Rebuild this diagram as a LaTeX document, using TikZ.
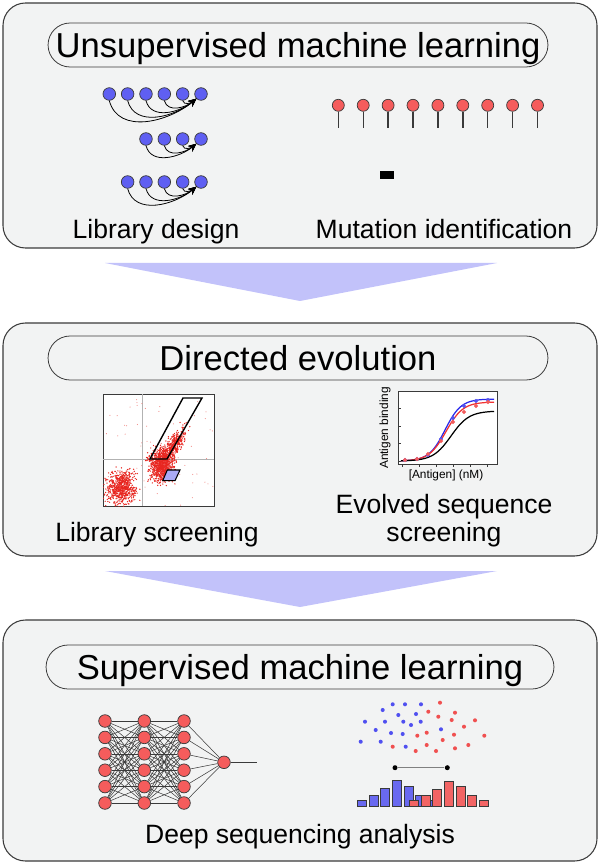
\documentclass[tikz,border=0pt]{standalone}
\usepackage{fontspec}
\setmainfont{Liberation Sans}
\usetikzlibrary{arrows.meta}
\definecolor{panelgray}{RGB}{242,243,243}
\definecolor{linegray}{RGB}{58,58,58}
\definecolor{flowblue}{RGB}{194,194,250}
\definecolor{ballblue}{RGB}{95,95,242}
\definecolor{ballred}{RGB}{245,92,92}
\definecolor{facsred}{RGB}{232,38,32}
\definecolor{gateblue}{RGB}{170,170,245}
\definecolor{curveblue}{RGB}{40,40,235}
\definecolor{curvered}{RGB}{240,50,50}
\definecolor{dotblue}{RGB}{80,80,240}
\definecolor{dotred}{RGB}{240,80,80}
\definecolor{barblue}{RGB}{105,105,240}
\definecolor{barred}{RGB}{242,100,100}
\tikzstyle{panel} = [draw=linegray,fill=panelgray,line width=0.6pt,rounded corners=0.45cm]
\tikzstyle{pill} = [draw=linegray,fill=panelgray,line width=0.45pt,rounded corners=0.44cm,minimum height=0.88cm,inner sep=0pt,font=\fontsize{19.7}{22}\selectfont,text height=14.1pt,text depth=0pt]
\tikzstyle{lbl} = [font=\fontsize{15.1}{18}\selectfont,anchor=base,inner sep=0pt]
\tikzstyle{axlbl} = [font=\fontsize{6.75}{8}\selectfont,inner sep=0pt]
\tikzstyle{ball} = [circle,draw=linegray,line width=0.4pt,minimum size=0.252cm,inner sep=0pt]
\tikzstyle{bball} = [ball,fill=ballblue]
\tikzstyle{rball} = [ball,fill=ballred]
\tikzstyle{link} = [draw,line width=0.45pt,-{Stealth[length=4.5pt,width=4pt]}]
\tikzstyle{wire} = [draw=linegray,line width=0.3pt]

\begin{document}
\begin{tikzpicture}[x=0.02cm,y=-0.02cm,
  sdot/.style={circle,fill=black,inner sep=0pt,minimum size=0.1cm},
  bar/.style={draw=linegray,line width=0.3pt}]
\useasboundingbox (0,0) rectangle (600,864);

\draw[panel] (3,3) rectangle (597,248);
\draw[panel] (3,323) rectangle (597,556);
\draw[panel] (3,620) rectangle (597,861);
\fill[flowblue] (105,263) -- (497,263) -- (300,301) -- cycle;
\fill[flowblue] (105,571) -- (497,571) -- (300,607) -- cycle;

\node[pill,minimum width=10cm] (unsup) at (298,45) {Unsupervised machine learning};
\node[pill,minimum width=10cm] (direv) at (298,358) {Directed evolution};
\node[pill,minimum width=10.16cm] (sup) at (300,667) {Supervised machine learning};

% library design
\foreach \k in {1,...,6}
  \node[bball] (a\k) at ({109.3+18.34*(\k-1)},94) {};
\foreach \k in {3,...,6}
  \node[bball] (b\k) at ({109.3+18.34*(\k-1)},139) {};
\foreach \k in {2,...,6}
  \node[bball] (c\k) at ({109.3+18.34*(\k-1)},182) {};
\foreach \k in {1,...,5}
  \draw[link] (a\k.south) to[out=-75,in=-140,looseness=1.05] (a6.south west);
\foreach \k in {3,...,5}
  \draw[link] (b\k.south) to[out=-75,in=-140,looseness=1.05] (b6.south west);
\foreach \k in {2,...,5}
  \draw[link] (c\k.south) to[out=-75,in=-140,looseness=1.05] (c6.south west);

% mutation identification
\foreach \k in {1,...,9}{
  \node[rball,minimum size=0.24cm] (m\k) at ({338.3+24.9*(\k-1)},105.3) {};
  \coordinate (t\k) at ({338.3+24.9*(\k-1)},128.3);
  \draw[linegray,line width=0.8pt] (m\k) -- (t\k);
}
\node[fill=black,inner sep=0pt,minimum width=0.28cm,minimum height=0.16cm] (mut) at (387,175) {};

\node[lbl] (libdes) at (156,239) {Library design};
\node[lbl] (mutid) at (444,239) {Mutation identification};

% library screening
\draw[linegray,fill=white,line width=0.5pt] (103,394) rectangle (214,506);
\begin{scope}
\clip (103,394) rectangle (214,506);
\draw[gray!60,line width=0.3pt] (142.7,394) -- (142.7,506) (103,459.3) -- (214,459.3);
\pgfmathsetseed{11}
\foreach \k in {1,...,700}{
  \pgfmathsetmacro\px{121+7*(rand+rand+rand)}
  \pgfmathsetmacro\py{488+8*(rand+rand+rand)}
  \fill[facsred] (\px,\py) circle[radius=0.4pt];
}
\foreach \k in {1,...,800}{
  \pgfmathsetmacro\px{161+6*(rand+rand+rand)}
  \pgfmathsetmacro\py{465+8*(rand+rand+rand)}
  \fill[facsred] (\px,\py) circle[radius=0.4pt];
}
\foreach \k in {1,...,450}{
  \pgfmathsetmacro\pt{11*(rand+rand+rand)}
  \pgfmathsetmacro\ps{3.5*(rand+rand+rand)}
  \fill[facsred] ({172+0.588*\pt+0.809*\ps},{447-0.809*\pt+0.588*\ps}) circle[radius=0.4pt];
}
\foreach \k in {1,...,60}{
  \fill[facsred!60] ({158.5+55*rand},{450+56*rand}) circle[radius=0.3pt];
}
\end{scope}
\draw[black,line width=0.8pt] (150,459) -- (167,459) -- (202,398) -- (183,398) -- cycle;
\filldraw[fill=gateblue,draw=black,line width=0.6pt] (162.7,480.7) -- (175,480.7) -- (180,470) -- (167.3,470) -- cycle;

% evolved sequence screening
\draw[linegray,fill=white,line width=0.5pt] (398,391) rectangle (497,464);
\foreach \y in {408,426,443,461}
  \draw[linegray,line width=0.4pt] (398,\y) -- (401,\y);
\foreach \x in {402,419,436,453,470,487}
  \draw[linegray,line width=0.4pt] (\x,464) -- (\x,466.5);
\draw[curveblue,line width=0.7pt] plot[domain=401:494,samples=60] (\x,{461-62/(1+exp(-(\x-445)/8))});
\draw[curvered,line width=0.7pt] plot[domain=401:494,samples=60] (\x,{461-59/(1+exp(-(\x-446)/8.5))});
\draw[black,line width=0.7pt] plot[domain=401:494,samples=60] (\x,{461-50/(1+exp(-(\x-451)/9))});
\draw[curveblue!80] plot[only marks,mark=*,mark size=0.9pt] coordinates {(405,460) (417,459) (428,455) (441,439) (453,418) (464,406) (476,401) (488,400)};
\draw[curvered!80] plot[only marks,mark=*,mark size=0.9pt] coordinates {(405,460) (417,459) (428,454) (441,441) (453,422) (464,412) (476,406) (488,402)};
\draw[black] plot[only marks,mark=square*,mark size=0.9pt] coordinates {(403,460) (417,459) (428,458) (441,450) (452,434) (464,423) (476,418) (488,412)};
\node[axlbl,rotate=90] (ylab) at (385,428) {Antigen binding};
\node[axlbl] (xlab) at (446,475) {[Antigen] (nM)};

\node[lbl] (libscr) at (157,541) {Library screening};
\node[lbl] (evseq) at (444,513) {Evolved sequence};
\node[lbl] (evscr) at (444,541) {screening};

% deep sequencing
\foreach \l/\x in {1/105,2/144.3,3/184}
  \foreach \k in {1,...,6}
    \node[rball] (n\l-\k) at (\x,{721+16.4*(\k-1)}) {};
\node[rball] (out) at (224,762.3) {};
\coordinate (outend) at (257,762.3);
\foreach \i in {1,...,6}
  \foreach \j in {1,...,6}{
    \draw[wire] (n1-\i) -- (n2-\j);
    \draw[wire] (n2-\i) -- (n3-\j);
  }
\foreach \i in {1,...,6}
  \draw[wire] (n3-\i) -- (out);
\draw[wire] (out) -- (outend);

\foreach \x/\y in {392.7/704.3,405/704.3,421/704.3,382.7/710,398.3/715,416/714,365/721.7,385/721.7,403.3/721.7,420.7/721.7,411/725,375.7/730,391/733,402.7/734,360.7/741.7,380.7/741.7,405.7/746.7,441/729.3}
  \fill[dotblue] (\x,\y) circle[radius=1.15pt];
\foreach \x/\y in {440/702.7,428.3/711.7,455/712.7,438.3/716.7,451.7/720,475/720.3,464/726.7,426.7/732.7,417.3/735.7,454/734.7,484.3/735.7,442.7/740,426.7/745,392.7/746.7,468.3/745,455/748.3,415.7/751,436/751}
  \fill[dotred] (\x,\y) circle[radius=1.15pt];

\node[sdot] (dl) at (395,767.7) {};
\node[sdot] (dr) at (447.3,767.7) {};
\draw[gray,line width=0.6pt] (dl) -- (dr);

\foreach \x/\t in {357.3/800,369/795,380.7/788.3,392.3/780.7,404/786,415.7/795,427.3/800}
  \filldraw[bar,fill=barblue] (\x,806) rectangle ({\x+9},\t);
\foreach \x/\t in {409.3/800,421/795,432.7/789,444.3/781,456/786.7,467.7/795,479.3/800}
  \filldraw[bar,fill=barred] (\x,806) rectangle ({\x+9},\t);

\node[lbl] (deepseq) at (300,843) {Deep sequencing analysis};
\end{tikzpicture}
\end{document}
